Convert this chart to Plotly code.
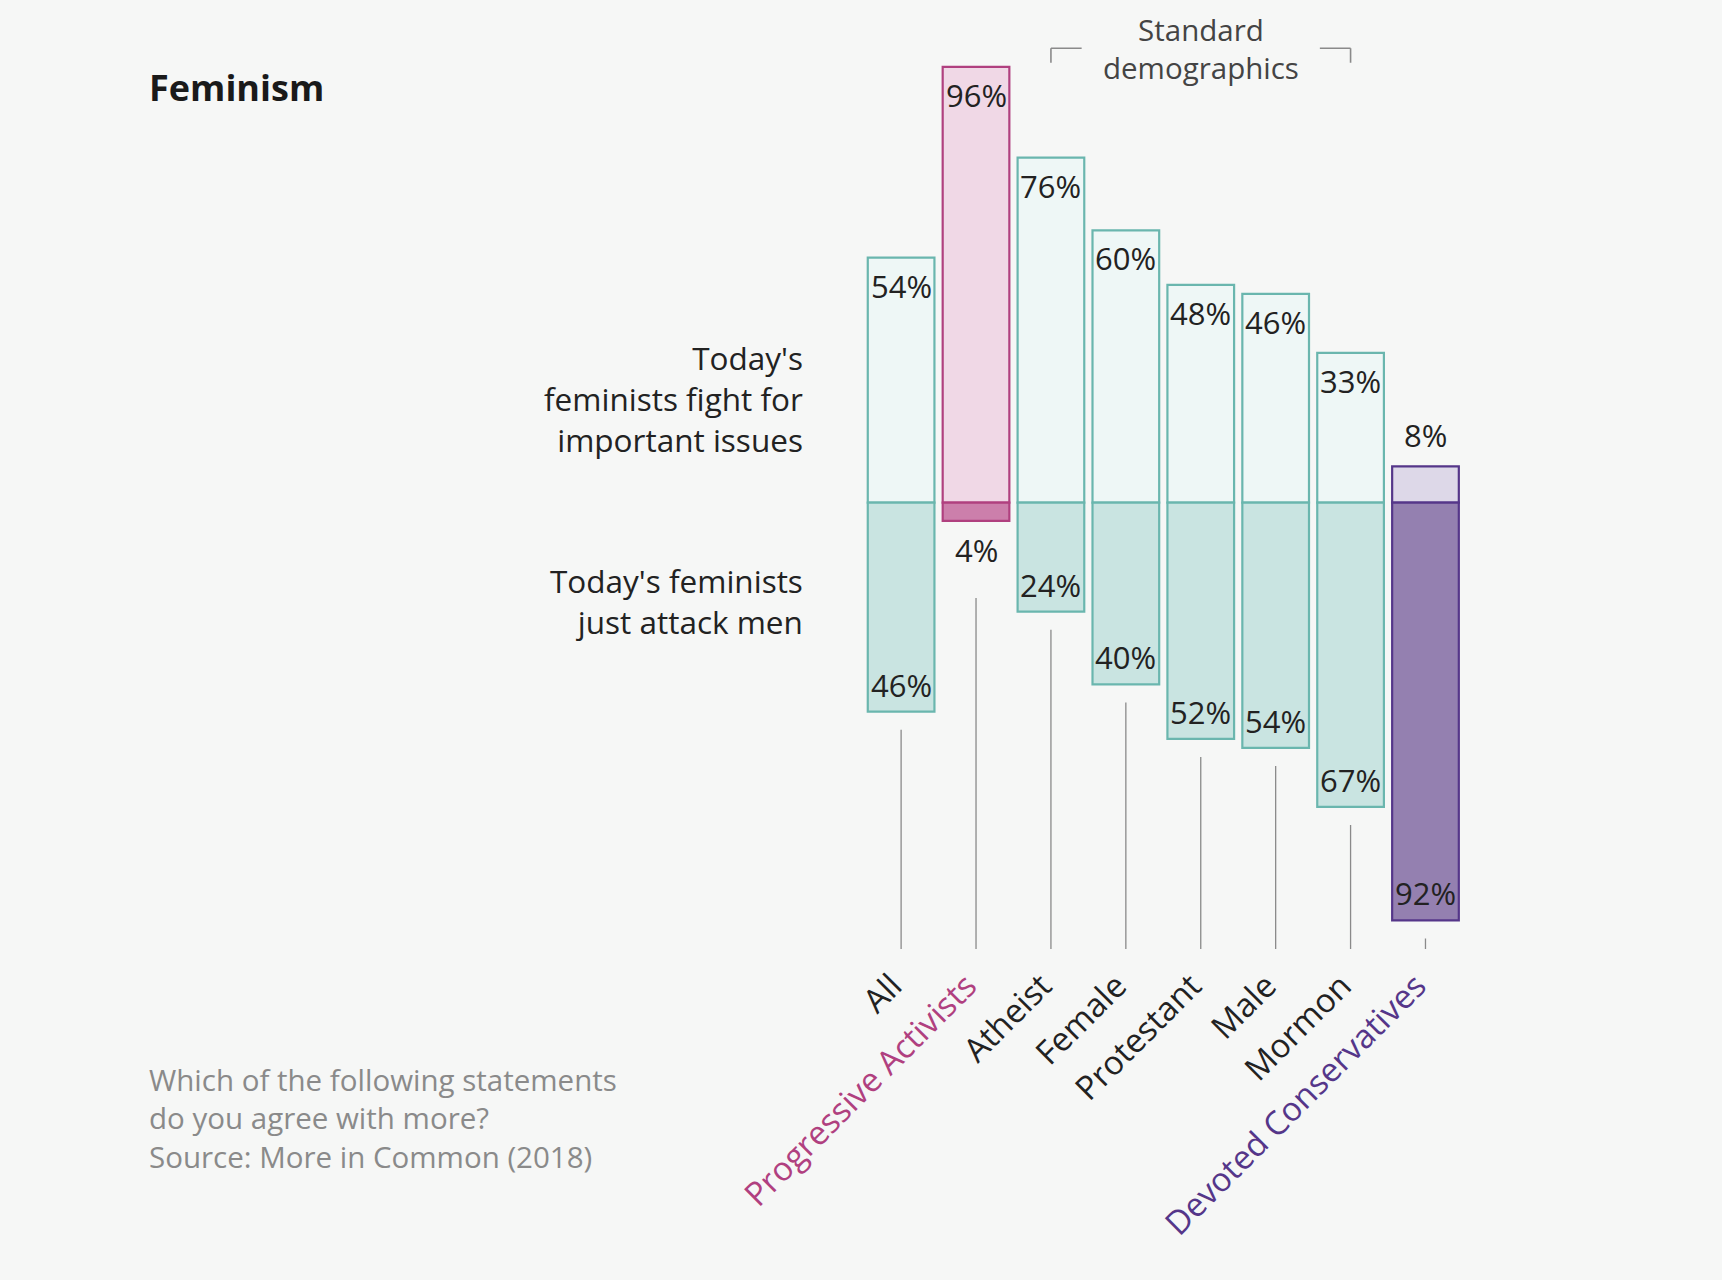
import plotly.graph_objects as go

# data
categories = ["All", "Progressive Activists", "Atheist", "Female",
              "Protestant", "Male", "Mormon", "Devoted Conservatives"]
fight_important = [54, 96, 76, 60, 48, 46, 33, 8]
attack_men = [46, 4, 24, 40, 52, 54, 67, 92]
group = ["std", "pa", "std", "std", "std", "std", "std", "dc"]

row_top = ["Today's", "feminists fight for", "important issues"]
row_bottom = ["Today's feminists", "just attack men"]
note = ["Which of the following statements", "do you agree with more?",
        "Source: More in Common (2018)"]
bracket_text = ["Standard", "demographics"]

bg = "#f6f7f6"
font = "Open Sans"
ink = "#222222"
W, H = 1722, 1280

top_fill = {"std": "#eef7f6", "pa": "#f0d8e6", "dc": "#ddd8e8"}
bot_fill = {"std": "#c9e4e1", "pa": "#cc7fab", "dc": "#9480b0"}
edge = {"std": "#6ab6ae", "pa": "#b0407f", "dc": "#553689"}
tick_col = {"std": ink, "pa": "#b0407f", "dc": "#553689"}

fig = go.Figure()
fig.add_trace(go.Bar(
    x=categories, y=fight_important,
    marker=dict(color=[top_fill[g] for g in group],
                line=dict(color=[edge[g] for g in group], width=2.2)),
    hoverinfo="skip", showlegend=False))
fig.add_trace(go.Bar(
    x=categories, y=[-v for v in attack_men],
    marker=dict(color=[bot_fill[g] for g in group],
                line=dict(color=[edge[g] for g in group], width=2.2)),
    hoverinfo="skip", showlegend=False))

annotations = []
shapes = []
for c, a, d in zip(categories, fight_important, attack_men):
    # top value label
    annotations.append(dict(x=c, y=a, xref="x", yref="y", text=f"{a}%",
                            showarrow=False, yanchor="middle",
                            yshift=31 if a < 15 else -28,
                            font=dict(family=font, size=31, color=ink)))
    # bottom value label
    small = d < 15
    annotations.append(dict(x=c, y=-d, xref="x", yref="y", text=f"{d}%",
                            showarrow=False, yanchor="middle",
                            yshift=-29 if small else 27,
                            font=dict(family=font, size=31, color=ink)))
    # leader line down to the category label
    start = -d - (17 if small else 4)
    shapes.append(dict(type="line", xref="x", yref="y", x0=c, x1=c,
                       y0=start, y1=-98.3,
                       line=dict(color="#8a8a8a", width=1.3)))

# bracket over the standard demographics
br = dict(color="#8a8a8a", width=1.6)
shapes += [
    dict(type="line", xref="x", yref="y", x0=2, x1=2, y0=100.1, y1=96.9, line=br),
    dict(type="line", xref="x", yref="y", x0=2, x1=2.41, y0=100.1, y1=100.1, line=br),
    dict(type="line", xref="x", yref="y", x0=5.59, x1=6, y0=100.1, y1=100.1, line=br),
    dict(type="line", xref="x", yref="y", x0=6, x1=6, y0=100.1, y1=96.9, line=br),
]


def block(lines, x, ypx, xanchor, size, color, xref="paper"):
    return dict(x=x, y=1 - ypx / H, xref=xref, yref="paper",
                text="<br>".join(lines), showarrow=False,
                xanchor=xanchor, yanchor="middle", align=xanchor,
                font=dict(family=font, size=size, color=color))


annotations.append(block(bracket_text, 4, 48.5, "center", 29.5, "#444444", xref="x"))
annotations.append(block(["<b>Feminism</b>"], 0.0855, 88, "left", 36, "#1a1a1a"))
annotations.append(block(row_top, 0.4675, 398, "right", 31.5, ink))
annotations.append(block(row_bottom, 0.4675, 601, "right", 31.5, ink))
annotations.append(block(note, 0.0855, 1118, "left", 29.5, "#8a8a8a"))

fig.update_layout(
    width=W, height=H,
    margin=dict(l=0, r=0, t=0, b=0),
    paper_bgcolor=bg, plot_bgcolor=bg,
    barmode="relative", bargap=0.11,
    annotations=annotations, shapes=shapes,
    font=dict(family=font, color=ink),
)
fig.update_xaxes(
    domain=[0.50154, 0.84956], range=[-0.5, 7.5], automargin=False,
    tickmode="array", tickvals=categories,
    ticktext=[f'<span style="color:{tick_col[g]}">{c}</span>' for c, g in zip(categories, group)],
    tickangle=-45, tickfont=dict(family=font, size=33), ticklabelshift=-9,
    showgrid=False, zeroline=False, showline=False, ticks="",
)
fig.update_yaxes(
    domain=[0.2508, 0.99031], range=[-100.5, 108], automargin=False,
    showgrid=False, zeroline=False, showline=False, showticklabels=False,
)

fig.write_html("out.html", config={"displayModeBar": False},
               post_script="document.body.style.margin='0';")
